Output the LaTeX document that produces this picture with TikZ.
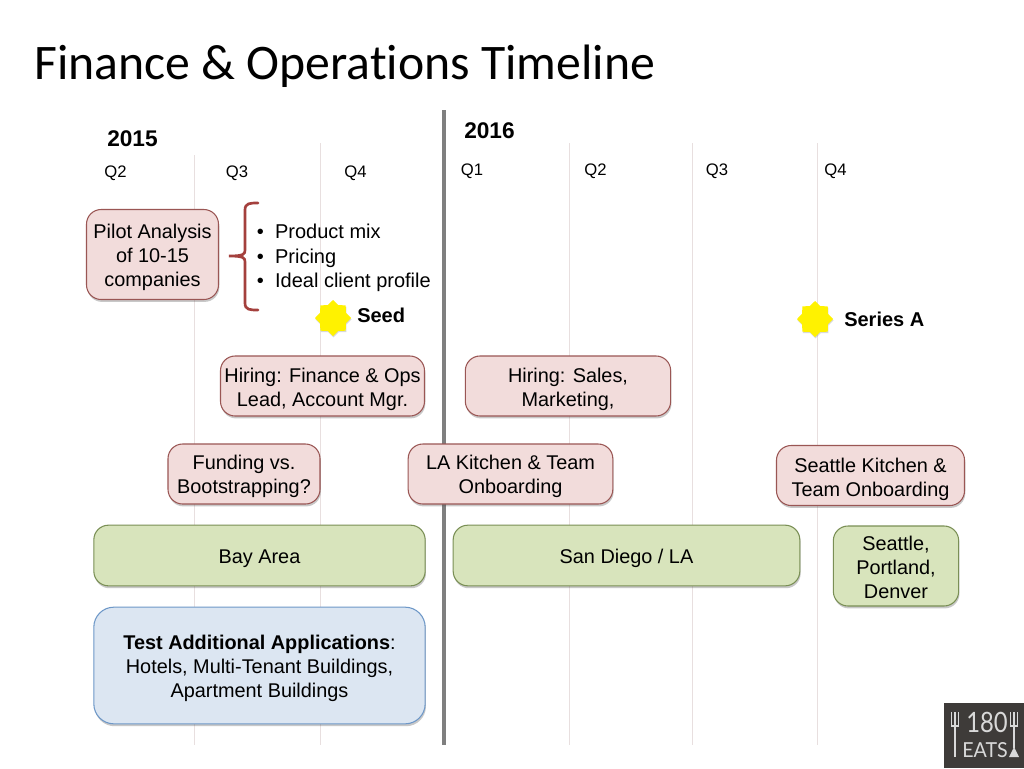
\documentclass[tikz,border=0pt]{standalone}
\usepackage{fontspec}
\usepackage{graphicx}
\setmainfont{Liberation Sans}
\newfontfamily\titlefont[Ligatures=NoCommon]{Carlito}
\newfontfamily\logofont{Lato}
\usetikzlibrary{shapes.geometric,shadows}
\definecolor{pinkfill}{HTML}{F2DCDB}
\definecolor{pinkline}{HTML}{9A5654}
\definecolor{greenfill}{HTML}{D8E4BC}
\definecolor{greenline}{HTML}{7A8F55}
\definecolor{bluefill}{HTML}{DCE6F2}
\definecolor{blueline}{HTML}{6E98C8}
\definecolor{gridline}{HTML}{E8DFDF}
\definecolor{yeardiv}{HTML}{7F7F7F}
\definecolor{bracecol}{HTML}{A4403D}
\definecolor{logobg}{HTML}{3E3B39}
\tikzset{
  x=0.75pt,y=-0.75pt,
  card/.style={rounded corners=11pt,line width=0.8pt,align=center,text=black,
    font=\fontsize{14.9pt}{18pt}\selectfont,inner sep=0pt,
    drop shadow={shadow xshift=0.6pt,shadow yshift=-1.8pt,opacity=0.3,fill=black!70}},
  singleline/.style={execute at begin node={\rule{0pt}{16pt}},execute at end node={\rule[-4pt]{0pt}{4pt}}},
  cardtext/.style={align=center,text=black,font=\fontsize{14.9pt}{18pt}\selectfont,inner sep=0pt,yshift=-2pt},
  pinkcard/.style={card,draw=pinkline,fill=pinkfill},
  greencard/.style={card,draw=greenline,fill=greenfill},
  bluecard/.style={card,draw=blueline,fill=bluefill},
  quarter/.style={font=\fontsize{12.5pt}{14pt}\selectfont,inner sep=0pt},
  yearlabel/.style={font=\bfseries\fontsize{17pt}{18pt}\selectfont,inner sep=0pt},
  grid line/.style={draw=gridline,line width=0.6pt},
  burst/.style={star,star points=8,star point ratio=1.3,minimum size=27pt,inner sep=0pt,
    fill=yellow,draw=none,drop shadow={shadow xshift=0.4pt,shadow yshift=-1pt,opacity=0.3}},
  milestone/.style={font=\bfseries\fontsize{15pt}{17pt}\selectfont,inner sep=0pt},
  listtext/.style={font=\fontsize{15pt}{18.3pt}\selectfont,inner sep=0pt,align=left,anchor=west},
  logoink/.style={text=white!85!black,inner sep=0pt},
}
\begin{document}
\begin{tikzpicture}
\useasboundingbox (0,0) rectangle (1024,768);
\fill[white] (0,0) rectangle (1024,768);
% grid
\foreach \xx/\yy in {194/155,320/143,569/143,692/143,817/143}
  \draw[grid line] (\xx,\yy) -- (\xx,745);
\draw[yeardiv,line width=2.6pt] (444,110) -- (444,745);
% title
\node[anchor=west,inner sep=0pt,font=\titlefont\fontsize{37.3pt}{42pt}\selectfont] (title) at (34,66) {Finance \& Operations Timeline};
% years
\node[yearlabel] (y15) at (132.5,139) {2015};
\node[yearlabel] (y16) at (489.5,131) {2016};
% quarters
\node[quarter] (a) at (115.5,173) {Q2};
\node[quarter] (b) at (237,173) {Q3};
\node[quarter] (c) at (355.5,173) {Q4};
\node[quarter] (d) at (472,171) {Q1};
\node[quarter] (e) at (595.5,171) {Q2};
\node[quarter] (f) at (717,171) {Q3};
\node[quarter] (g) at (835.5,171) {Q4};
% cards
\node[pinkcard,minimum width=99pt,minimum height=67.5pt,label={[cardtext]center:{Pilot Analysis\\of 10-15\\companies}}] (pilot) at (152.5,254.5) {};
\node[pinkcard,minimum width=153pt,minimum height=45pt,label={[cardtext,yshift=-0.75pt]center:{Hiring: Finance \& Ops\\Lead, Account Mgr.}}] (hirefin) at (322.5,386) {};
\node[pinkcard,minimum width=154pt,minimum height=45pt,label={[cardtext,yshift=-0.75pt]center:{Hiring: Sales,\\Marketing,}}] (hiresales) at (568,386) {};
\node[pinkcard,minimum width=114pt,minimum height=45pt,label={[cardtext]center:{Funding vs.\\Bootstrapping?}}] (fund) at (244,474) {};
\node[pinkcard,minimum width=153.5pt,minimum height=45pt,label={[cardtext]center:{LA Kitchen \& Team\\Onboarding}}] (la) at (510.5,474) {};
\node[pinkcard,minimum width=141pt,minimum height=45pt,label={[cardtext,yshift=-0.75pt]center:{Seattle Kitchen \&\\Team Onboarding}}] (sea) at (870.5,475.5) {};
\node[greencard,singleline,minimum width=248.5pt,minimum height=45.5pt] (bay) at (259.5,555.5) {Bay Area};
\node[greencard,singleline,minimum width=260pt,minimum height=45.5pt] (sd) at (626.5,555.5) {San Diego / LA};
\node[greencard,minimum width=94pt,minimum height=60pt,label={[cardtext,yshift=0.75pt]center:{Seattle,\\Portland,\\Denver}}] (spd) at (896,566) {};
\node[bluecard,minimum width=248.5pt,minimum height=87.5pt,rounded corners=15pt,label={[cardtext]center:{\textbf{Test Additional Applications}:\\Hotels, Multi-Tenant Buildings,\\Apartment Buildings}}] (test) at (259.5,665.5) {};
% brace
\coordinate (bt) at (258,203);
\coordinate (bb) at (258,310);
\coordinate (bm) at (229,256);
\draw[bracecol,line width=2pt,line cap=round] (bt) .. controls (250,203) and (245,203) .. (245,210) -- (245,250) .. controls (245,254) and (244,256) .. (bm) .. controls (244,256) and (245,258) .. (245,262) -- (245,303) .. controls (245,310) and (250,310) .. (bb);
% list
\node[listtext] (list) at (256.5,258) {\textbullet\hspace{8.5pt}Product mix\\\textbullet\hspace{8.5pt}Pricing\\\textbullet\hspace{8.5pt}Ideal client profile};
% milestones
\node[burst] (s1) at (333,318) {};
\node[milestone,anchor=west] (seed) at (357,315.5) {Seed};
\node[burst] (s2) at (815,319) {};
\node[milestone,anchor=west] (seriesa) at (844,319.5) {Series A};
% logo
\fill[logobg] (944,703) rectangle (1024,768);
\node[logoink,font=\logofont\fontsize{21pt}{21pt}\selectfont] (l1) at (987,722) {\scalebox{0.85}[1]{180}};
\node[logoink,font=\logofont\fontsize{15.5pt}{15.5pt}\selectfont] (l2) at (985,750) {\scalebox{0.95}[1]{EATS}};
\draw[white!85!black,line width=1.6pt] (955,712) -- (955,757);
\draw[white!85!black,line width=0.8pt] (951.5,712) -- (951.5,726) -- (958.5,726) -- (958.5,712);
\draw[white!85!black,line width=0.8pt] (1014,712) -- (1014,748);
\draw[white!85!black,line width=0.8pt] (1010.5,712) -- (1010.5,726) -- (1017.5,726) -- (1017.5,712);
\fill[white!85!black] (1014,747) -- (1019,757) -- (1009,757) -- cycle;
\end{tikzpicture}
\end{document}
